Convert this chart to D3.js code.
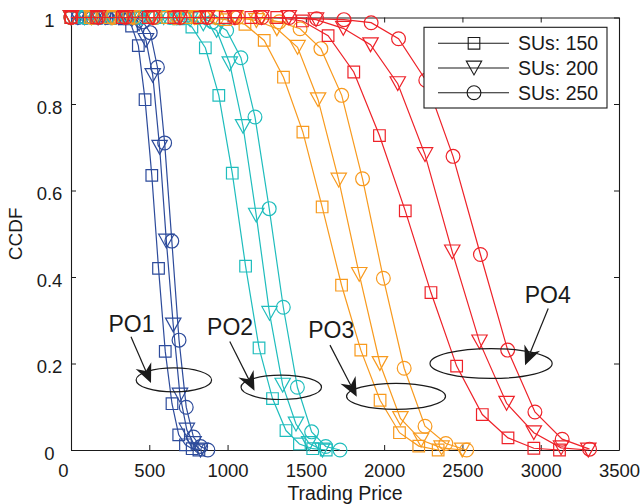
<!DOCTYPE html>
<html><head><meta charset="utf-8">
<script src="https://cdn.jsdelivr.net/npm/d3@7"></script>
<style>
body{margin:0;background:#fff}
svg{display:block}
text{font-family:"Liberation Sans",Arial,Helvetica,sans-serif;fill:#1a1a1a}
</style>
</head><body><svg id="c" width="640" height="504"></svg>
<script>
// ---------- data ----------
const xTicks = [0, 500, 1000, 1500, 2000, 2500, 3000, 3500];
const yTicks = [0, 0.2, 0.4, 0.6, 0.8, 1];
const yTickLabels = ["0", "0.2", "0.4", "0.6", "0.8", "1"];
const groupNames = ["PO1", "PO2", "PO3", "PO4"];
const groupColors = ["#2d4b9b", "#1fbdbd", "#f89a1e", "#ee2229"];
const suCounts = [150, 200, 250];
const legendLabels = ["SUs: 150", "SUs: 200", "SUs: 250"];
const markerShapes = ["square", "triangle", "circle"];

const po1_150_x = [0,43,86,129,172,215,258,301,344,387,430,473,516,559,602,645,688,731,774,817];
const po1_150_y = [1,1,1,1,1,1,1,1,0.997,0.98,0.935,0.81,0.635,0.42,0.228,0.107,0.035,0.012,0.003,0];
const po1_200_x = [0,44,87,131,174,218,261,305,348,392,435,479,522,566,609,653,696,740,783,827];
const po1_200_y = [1,1,1,1,1,1,1,1,1,0.997,0.985,0.947,0.866,0.70,0.483,0.289,0.127,0.046,0.015,0];
const po1_250_x = [0,46,92,138,184,230,276,322,368,414,460,506,552,598,644,690,736,782,828,874];
const po1_250_y = [1,1,1,1,1,1,1,1,1,1,0.99,0.965,0.885,0.71,0.483,0.254,0.099,0.03,0.008,0];

const po2_150_x = [0,86,172,257,343,429,515,601,686,772,858,944,1030,1115,1201,1287,1373,1459,1544,1630];
const po2_150_y = [1,1,1,1,1,1,1,1,0.997,0.978,0.93,0.82,0.64,0.425,0.236,0.119,0.045,0.014,0.003,0];
const po2_200_x = [0,85,169,254,338,423,507,592,676,761,845,930,1014,1099,1183,1268,1352,1437,1521,1606];
const po2_200_y = [1,1,1,1,1,1,1,1,1,0.995,0.985,0.97,0.893,0.748,0.543,0.316,0.15,0.06,0.015,0];
const po2_250_x = [0,90,181,271,362,452,542,633,723,814,904,994,1085,1175,1266,1356,1446,1537,1627,1718];
const po2_250_y = [1,1,1,1,1,1,1,1,1,1,0.99,0.97,0.907,0.77,0.558,0.33,0.145,0.042,0.008,0];

const po3_150_x = [0,123,247,370,494,617,740,864,987,1111,1234,1357,1481,1604,1728,1851,1974,2098,2221,2345];
const po3_150_y = [1,1,1,1,1,1,1,1,0.995,0.984,0.947,0.862,0.735,0.562,0.381,0.231,0.115,0.04,0.009,0];
const po3_200_x = [0,132,263,395,526,658,789,921,1052,1184,1315,1447,1578,1710,1841,1973,2104,2236,2367,2499];
const po3_200_y = [1,1,1,1,1,1,1,1,1,0.993,0.974,0.931,0.81,0.624,0.406,0.2,0.073,0.023,0.005,0];
const po3_250_x = [0,133,266,399,532,665,798,931,1064,1197,1330,1463,1596,1729,1862,1995,2128,2261,2394,2527];
const po3_250_y = [1,1,1,1,1,1,1,1,1,1,0.99,0.974,0.928,0.82,0.627,0.397,0.189,0.055,0.015,0];

const po4_150_x = [0,164,328,493,657,821,985,1149,1314,1478,1642,1806,1970,2135,2299,2463,2627,2791,2956,3120];
const po4_150_y = [1,1,1,1,1,1,1,1,1,0.992,0.958,0.874,0.727,0.553,0.364,0.194,0.082,0.028,0.004,0];
const po4_200_x = [0,174,348,522,696,870,1043,1217,1391,1565,1739,1913,2087,2261,2435,2609,2782,2956,3130,3304];
const po4_200_y = [1,1,1,1,1,1,1,1,1,0.995,0.975,0.937,0.847,0.683,0.458,0.25,0.108,0.04,0.005,0];
const po4_250_x = [0,174,349,523,697,872,1046,1220,1394,1569,1743,1917,2092,2266,2440,2615,2789,2963,3137,3312];
const po4_250_y = [1,1,1,1,1,1,1,1,1,0.997,0.995,0.988,0.951,0.855,0.679,0.452,0.231,0.088,0.025,0.002];

// annotations (data coordinates)
const annotations = [
  {label:"PO1", lx:386,  ly:0.273, ex:657,  ey:0.162, erx:241, ery:0.0277, ax0:383,  ay0:0.262, ax1:511,  ay1:0.155},
  {label:"PO2", lx:1016, ly:0.266, ex:1343, ey:0.145, erx:257, ery:0.0282, ax0:1014, ay0:0.251, ax1:1172, ay1:0.137},
  {label:"PO3", lx:1662, ly:0.258, ex:2076, ey:0.124, erx:316, ery:0.030,  ax0:1654, ay0:0.2425,ax1:1825, ay1:0.123},
  {label:"PO4", lx:3045, ly:0.339, ex:2683, ey:0.200, erx:390, ery:0.0346, ax0:3048, ay0:0.327, ax1:2900, ay1:0.196}
];

const seriesTable = [
  [[po1_150_x,po1_150_y],[po1_200_x,po1_200_y],[po1_250_x,po1_250_y]],
  [[po2_150_x,po2_150_y],[po2_200_x,po2_200_y],[po2_250_x,po2_250_y]],
  [[po3_150_x,po3_150_y],[po3_200_x,po3_200_y],[po3_250_x,po3_250_y]],
  [[po4_150_x,po4_150_y],[po4_200_x,po4_200_y],[po4_250_x,po4_250_y]]
];

// ---------- layout ----------
const W = 640, H = 504;
const M = {left:71, right:21, top:17.5, bottom:54};
const svg = d3.select("#c");
const x = d3.scaleLinear().domain([0, 3500]).range([M.left, W - M.right]);
const y = d3.scaleLinear().domain([0, 1]).range([H - M.bottom, M.top]);

function markerPath(shape) {
  if (shape === "square") { const s = 5.8; return `M${-s},${-s}H${s}V${s}H${-s}Z`; }
  if (shape === "triangle") { const w = 7.7, h = 6.9; return `M${-w},${-h}L${w},${-h}L0,${h}Z`; }
  const r = 6.9; return `M${r},0A${r},${r} 0 1,1 ${-r},0A${r},${r} 0 1,1 ${r},0Z`;
}

// white background
svg.append("rect").attr("width", W).attr("height", H).attr("fill", "#fff");

// axes
const fs = 18.5;
const axB = svg.append("g").attr("transform", `translate(0,${y(0)})`)
  .call(d3.axisBottom(x).tickValues(xTicks).tickSizeInner(-5).tickSizeOuter(0).tickPadding(13.4).tickFormat(d3.format("d")));
const axT = svg.append("g").attr("transform", `translate(0,${y(1)})`)
  .call(d3.axisTop(x).tickValues(xTicks).tickSizeInner(-5).tickSizeOuter(0).tickFormat(""));
const axL = svg.append("g").attr("transform", `translate(${x(0)},0)`)
  .call(d3.axisLeft(y).tickValues(yTicks).tickSizeInner(-5).tickSizeOuter(0).tickFormat((d,i) => yTickLabels[i]));
const axR = svg.append("g").attr("transform", `translate(${x(3500)},0)`)
  .call(d3.axisRight(y).tickValues(yTicks).tickSizeInner(-5).tickSizeOuter(0).tickFormat(""));
[axB, axT, axL, axR].forEach(g => {
  g.selectAll(".domain").attr("stroke", "#1a1a1a").attr("stroke-width", 1.1);
  g.selectAll(".tick line").attr("stroke", "#1a1a1a").attr("stroke-width", 1);
  g.selectAll("text").attr("font-size", fs).attr("font-family", '"Liberation Sans",Arial,Helvetica,sans-serif').attr("fill", "#1a1a1a");
});
axB.selectAll(".tick text").attr("dx", d => d === 0 ? -8 : 0);
axL.selectAll(".tick text").attr("text-anchor", "middle").attr("x", -21.5).attr("dy", 9.3);

// axis labels
svg.append("text").attr("x", (x(0) + x(3500)) / 2).attr("y", 500).attr("text-anchor", "middle")
  .attr("font-size", 19.5).text("Trading Price");
svg.append("text").attr("transform", `translate(22,${(y(0) + y(1)) / 2}) rotate(-90)`).attr("text-anchor", "middle")
  .attr("font-size", 19).text("CCDF");

// series
const line = d3.line().x(d => x(d[0])).y(d => y(d[1]));
seriesTable.forEach((grp, gi) => {
  grp.forEach((ser, si) => {
    const pts = ser[0].map((v, i) => [v, ser[1][i]]);
    const g = svg.append("g").attr("class", `s-${groupNames[gi]}-${suCounts[si]}`);
    g.append("path").datum(pts).attr("d", line).attr("fill", "none")
      .attr("stroke", groupColors[gi]).attr("stroke-width", 1.2);
    g.selectAll("path.m").data(pts).join("path").attr("class", "m")
      .attr("transform", d => `translate(${x(d[0])},${y(d[1])})`)
      .attr("d", markerPath(markerShapes[si])).attr("fill", "none")
      .attr("stroke", groupColors[gi]).attr("stroke-width", 1.2);
  });
});

// annotations
const ann = svg.append("g");
annotations.forEach(a => {
  ann.append("ellipse").attr("cx", x(a.ex)).attr("cy", y(a.ey))
    .attr("rx", x(a.erx) - x(0)).attr("ry", y(0) - y(a.ery))
    .attr("fill", "none").attr("stroke", "#1a1a1a").attr("stroke-width", 1.2);
  ann.append("text").attr("x", x(a.lx)).attr("y", y(a.ly)).attr("text-anchor", "middle")
    .attr("font-size", 23).text(a.label);
  const x0 = x(a.ax0), y0 = y(a.ay0), x1 = x(a.ax1), y1 = y(a.ay1);
  const dx = x1 - x0, dy = y1 - y0, len = Math.hypot(dx, dy);
  const ux = dx / len, uy = dy / len, nx = -uy, ny = ux;
  const L = 19, Wd = 8.5, notch = 6;
  const bx = x1 - L * ux, by = y1 - L * uy;
  const kx = x1 - (L - notch) * ux, ky = y1 - (L - notch) * uy;
  ann.append("line").attr("x1", x0).attr("y1", y0).attr("x2", kx).attr("y2", ky)
    .attr("stroke", "#1a1a1a").attr("stroke-width", 1.2);
  ann.append("path").attr("d", `M${x1},${y1}L${bx + Wd * nx},${by + Wd * ny}L${kx},${ky}L${bx - Wd * nx},${by - Wd * ny}Z`)
    .attr("fill", "#1a1a1a");
});

// legend
const lg = svg.append("g");
lg.append("rect").attr("x", 424).attr("y", 27.3).attr("width", 183).attr("height", 80.7)
  .attr("fill", "#fff").attr("stroke", "#1a1a1a").attr("stroke-width", 1.1);
legendLabels.forEach((lab, i) => {
  const cy = 43.3 + i * 24.7;
  lg.append("line").attr("x1", 438).attr("x2", 509).attr("y1", cy).attr("y2", cy)
    .attr("stroke", "#1a1a1a").attr("stroke-width", 1.1);
  lg.append("path").attr("transform", `translate(474,${cy})`).attr("d", markerPath(markerShapes[i]))
    .attr("fill", "none").attr("stroke", "#1a1a1a").attr("stroke-width", 1.1);
  lg.append("text").attr("x", 518).attr("y", cy + 6.8).attr("font-size", 19.5).text(lab);
});
</script>
</body></html>
